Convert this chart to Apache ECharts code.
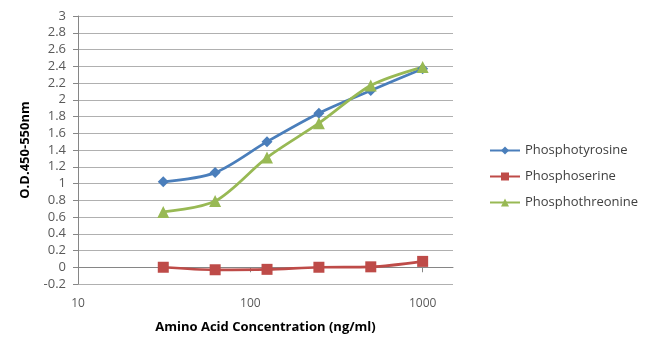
<!DOCTYPE html>
<html>
<head>
    <meta charset="UTF-8">
    <title>O.D. vs amino acid concentration</title>
    <style>
        html, body { margin: 0; padding: 0; background: #fff; }
        #chart { width: 650px; height: 354px; }
    </style>
    <script src="https://cdn.jsdelivr.net/npm/echarts@6/dist/echarts.min.js"></script>
</head>
<body>
<div id="chart"></div>
<script>
    var concentrations = [31.25, 62.5, 125, 250, 500, 1000];
    var phosphotyrosine = [1.02, 1.13, 1.50, 1.84, 2.11, 2.37];
    var phosphoserine = [0.00, -0.03, -0.025, 0.00, 0.005, 0.07];
    var phosphothreonine = [0.66, 0.79, 1.31, 1.72, 2.17, 2.39];

    function pairs(ys) {
        return concentrations.map(function (x, i) { return [x, ys[i]]; });
    }

    var font = '"Open Sans", "Liberation Sans", sans-serif';
    var chart = echarts.init(document.getElementById('chart'), null, {renderer: 'canvas'});

    chart.setOption({
        animation: false,
        textStyle: {fontFamily: font},
        grid: {left: 78, right: 197, top: 16, bottom: 70, containLabel: false},
        legend: {
            orient: 'vertical',
            left: 484,
            top: 139,
            itemWidth: 30,
            itemHeight: 10,
            itemGap: 13,
            textStyle: {fontFamily: font, fontSize: 13, color: '#404040'},
            data: ['Phosphotyrosine', 'Phosphoserine', 'Phosphothreonine']
        },
        xAxis: {
            type: 'log',
            logBase: 10,
            min: 10,
            max: 1500,
            name: 'Amino Acid Concentration (ng/ml)',
            nameLocation: 'middle',
            nameGap: 37,
            nameTextStyle: {fontFamily: font, fontSize: 13, fontWeight: 'bold', color: '#000'},
            axisLine: {lineStyle: {color: '#868686'}},
            axisTick: {show: true, length: 5, lineStyle: {color: '#868686'}},
            axisLabel: {
                fontSize: 12,
                color: '#595959',
                margin: 14,
                showMaxLabel: false,
                formatter: function (v) { return String(Math.round(v)); }
            },
            splitLine: {show: false}
        },
        yAxis: {
            type: 'value',
            min: -0.2,
            max: 3,
            interval: 0.2,
            name: 'O.D.450-550nm',
            nameLocation: 'middle',
            nameGap: 46,
            nameRotate: 90,
            nameTextStyle: {fontFamily: font, fontSize: 13, fontWeight: 'bold', color: '#000'},
            axisLine: {show: true, lineStyle: {color: '#868686'}},
            axisTick: {show: true, length: 5, lineStyle: {color: '#868686'}},
            axisLabel: {
                fontSize: 13,
                color: '#595959',
                margin: 12,
                formatter: function (v) { return String(Math.round(v * 10) / 10); }
            },
            splitLine: {lineStyle: {color: '#b0b0b0', width: 1}}
        },
        series: [
            {
                name: 'Phosphotyrosine',
                type: 'line',
                smooth: 0.3,
                data: pairs(phosphotyrosine),
                symbol: 'diamond',
                symbolSize: 11,
                itemStyle: {color: '#4a7ebb'},
                lineStyle: {color: '#4a7ebb', width: 2.75}
            },
            {
                name: 'Phosphoserine',
                type: 'line',
                smooth: 0.3,
                data: pairs(phosphoserine),
                symbol: 'rect',
                symbolSize: 11,
                itemStyle: {color: '#be4b48'},
                lineStyle: {color: '#be4b48', width: 2.75}
            },
            {
                name: 'Phosphothreonine',
                type: 'line',
                smooth: 0.3,
                data: pairs(phosphothreonine),
                symbol: 'triangle',
                symbolSize: 12,
                itemStyle: {color: '#98b954'},
                lineStyle: {color: '#98b954', width: 2.75}
            }
        ]
    });
</script>
</body>
</html>
